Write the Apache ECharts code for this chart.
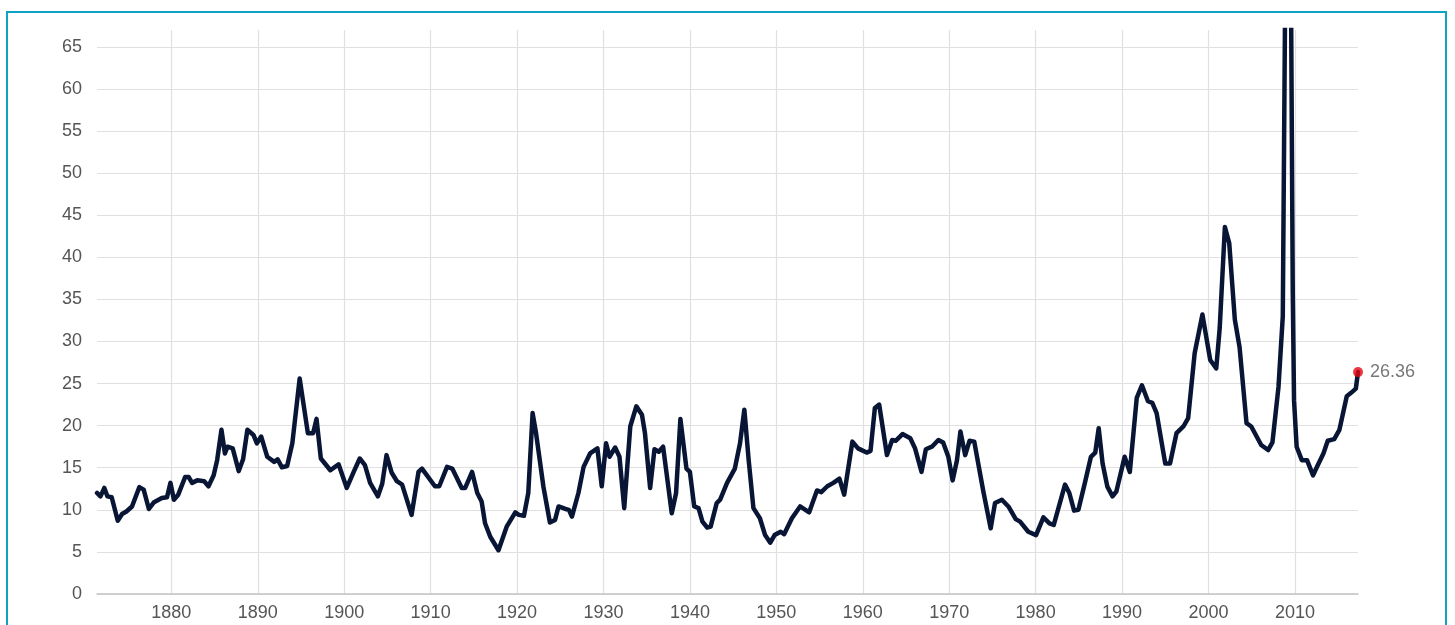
<!DOCTYPE html>
<html>
<head>
<meta charset="utf-8">
<script src="https://cdn.jsdelivr.net/npm/echarts@6/dist/echarts.min.js"></script>
<style>
  html, body { margin: 0; padding: 0; background: #fff; }
  #frame { position: absolute; left: 6px; top: 11px; width: 1441px; height: 660px; border: 2.5px solid #0fa3c5; box-sizing: border-box; }
  #chart { position: absolute; left: 0; top: 0; width: 1455px; height: 625px; }
</style>
</head>
<body>
<div id="frame"></div>
<div id="chart"></div>
<script>
// Year positions (fractional years) and S&P 500 P/E values
const years = [
  1871.4, 1871.8, 1872.25, 1872.6, 1873.1, 1873.8, 1874.3, 1874.8, 1875.45, 1876.3,
  1876.8, 1877.4, 1878.0, 1878.9, 1879.5, 1879.9, 1880.3, 1880.8, 1881.6, 1882.0,
  1882.4, 1883.0, 1883.8, 1884.3, 1884.9, 1885.3, 1885.8, 1886.2, 1886.5, 1887.1,
  1887.8, 1888.3, 1888.8, 1889.5, 1889.9, 1890.4, 1891.1, 1891.9, 1892.3, 1892.8,
  1893.4, 1894.0, 1894.85, 1895.8, 1896.4, 1896.8, 1897.3, 1898.4, 1899.35, 1900.3,
  1901.1, 1901.8, 1902.4, 1903.0, 1903.9, 1904.4, 1904.9, 1905.5, 1906.1, 1906.7,
  1907.8, 1908.6, 1909.0, 1910.5, 1911.0, 1911.9, 1912.5, 1913.6, 1914.0, 1914.8,
  1915.4, 1915.9, 1916.3, 1916.9, 1917.85, 1918.8, 1919.8, 1920.2, 1920.8, 1921.3,
  1921.8, 1922.2, 1923.05, 1923.8, 1924.4, 1924.8, 1925.6, 1926.0, 1926.35, 1927.1,
  1927.7, 1928.45, 1929.3, 1929.8, 1930.3, 1930.7, 1931.35, 1931.85, 1932.4, 1933.1,
  1933.8, 1934.45, 1934.8, 1935.4, 1935.9, 1936.4, 1936.9, 1937.9, 1938.4, 1938.9,
  1939.6, 1940.0, 1940.5, 1941.0, 1941.45, 1942.0, 1942.4, 1943.1, 1943.5, 1944.3,
  1945.2, 1945.8, 1946.3, 1946.8, 1947.35, 1948.1, 1948.7, 1949.3, 1949.8, 1950.5,
  1950.9, 1951.8, 1952.75, 1953.8, 1954.7, 1955.2, 1955.9, 1956.6, 1957.3, 1957.85,
  1958.8, 1959.45, 1960.45, 1960.9, 1961.4, 1961.9, 1962.8, 1963.4, 1963.8, 1964.6,
  1965.5, 1966.05, 1966.8, 1967.3, 1968.0, 1968.75, 1969.3, 1969.9, 1970.4, 1970.9,
  1971.3, 1971.85, 1972.35, 1972.9, 1973.95, 1974.8, 1975.3, 1976.1, 1976.85, 1977.7,
  1978.2, 1979.15, 1980.05, 1980.9, 1981.6, 1982.1, 1983.4, 1983.9, 1984.45, 1984.95,
  1985.7, 1986.4, 1986.9, 1987.3, 1987.75, 1988.3, 1988.9, 1989.35, 1990.3, 1990.9,
  1991.7, 1992.3, 1993.0, 1993.5, 1994.0, 1995.0, 1995.55, 1996.3, 1997.1, 1997.65,
  1998.4, 1999.3, 2000.2, 2000.9, 2001.3, 2001.9, 2002.4, 2003.05, 2003.6, 2004.4,
  2004.95, 2006.1, 2006.9, 2007.4, 2008.1, 2008.6, 2009.25, 2009.75, 2009.9, 2010.2,
  2010.8, 2011.4, 2012.1, 2012.6, 2013.3, 2013.8, 2014.55, 2015.15, 2016.0, 2016.5,
  2017.05, 2017.3
];
const peValues = [
  12.0, 11.6, 12.6, 11.6, 11.5, 8.7, 9.5, 9.8, 10.4, 12.7,
  12.4, 10.1, 10.9, 11.4, 11.5, 13.2, 11.2, 11.8, 13.9, 13.9,
  13.2, 13.5, 13.4, 12.8, 14.1, 15.9, 19.5, 16.7, 17.5, 17.3,
  14.6, 16.0, 19.5, 18.9, 17.9, 18.7, 16.3, 15.7, 16.0, 15.05,
  15.2, 17.9, 25.6, 19.1, 19.1, 20.8, 16.1, 14.7, 15.4, 12.6,
  14.5, 16.1, 15.3, 13.2, 11.6, 13.1, 16.5, 14.4, 13.4, 13.0,
  9.4, 14.5, 14.9, 12.8, 12.8, 15.1, 14.9, 12.6, 12.6, 14.5,
  12.0, 11.0, 8.4, 6.8, 5.2, 8.0, 9.7, 9.4, 9.3, 12.0,
  21.5, 19.1, 12.75, 8.5, 8.8, 10.4, 10.1, 10.0, 9.2, 12.0,
  15.1, 16.7, 17.3, 12.8, 17.9, 16.3, 17.4, 16.3, 10.2, 19.9,
  22.3, 21.3, 19.1, 12.6, 17.2, 16.9, 17.5, 9.6, 12.0, 20.8,
  14.9, 14.5, 10.4, 10.2, 8.6, 7.9, 8.0, 10.8, 11.2, 13.2,
  14.9, 17.9, 21.9, 15.9, 10.2, 9.0, 7.0, 6.1, 7.0, 7.4,
  7.1, 9.0, 10.4, 9.7, 12.3, 12.1, 12.8, 13.2, 13.7, 11.8,
  18.1, 17.3, 16.8, 17.0, 22.1, 22.5, 16.5, 18.3, 18.2, 19.0,
  18.5, 17.3, 14.5, 17.2, 17.5, 18.3, 18.0, 16.3, 13.5, 15.9,
  19.3, 16.5, 18.2, 18.1, 12.2, 7.8, 10.8, 11.2, 10.4, 8.9,
  8.6, 7.4, 7.0, 9.1, 8.4, 8.2, 13.0, 12.0, 9.9, 10.0,
  13.2, 16.3, 16.8, 19.7, 15.5, 12.75, 11.6, 12.2, 16.3, 14.5,
  23.3, 24.8, 22.9, 22.7, 21.5, 15.5, 15.5, 19.1, 19.9, 20.9,
  28.6, 33.2, 27.8, 26.8, 31.6, 43.6, 41.7, 32.6, 29.3, 20.3,
  19.9, 17.7, 17.1, 18.0, 24.6, 33.0, 123.7, 36.0, 23.0, 17.5,
  15.9, 15.9, 14.1, 15.2, 16.7, 18.2, 18.4, 19.5, 23.5, 23.9,
  24.4, 26.36
];
const yTicks = [0, 5, 10, 15, 20, 25, 30, 35, 40, 45, 50, 55, 60, 65];
const lastLabel = '26.36';

const seriesData = years.map((y, i) => [y, peValues[i]]);
const lastPoint = [years[years.length - 1], peValues[peValues.length - 1]];

const chart = echarts.init(document.getElementById('chart'), null, { renderer: 'canvas' });
const labelFont = { fontFamily: 'Liberation Sans, Arial, sans-serif', fontSize: 18, color: '#555555' };
chart.setOption({
  backgroundColor: 'transparent',
  animation: false,
  grid: { left: 97, right: 97, top: 30, bottom: 31, containLabel: false },
  xAxis: {
    type: 'value',
    min: 1871.4,
    max: 2017.3,
    splitNumber: 15,
    axisLine: { show: true, lineStyle: { color: '#c4c4c4', width: 1.5 } },
    axisTick: { show: false },
    axisLabel: Object.assign({
      margin: 10,
      showMinLabel: false,
      showMaxLabel: false,
      formatter: v => (Math.abs(v - Math.round(v)) < 1e-6 && Math.round(v) % 10 === 0) ? String(Math.round(v)) : ''
    }, labelFont),
    splitLine: { show: true, showMinLine: false, showMaxLine: false, lineStyle: { color: '#e0e0e0', width: 1.2 } }
  },
  yAxis: {
    type: 'value',
    min: 0,
    max: 67,
    interval: 5,
    axisLine: { show: false },
    axisTick: { show: false },
    axisLabel: Object.assign({
      margin: 15,
      showMaxLabel: false,
      formatter: v => yTicks.indexOf(v) >= 0 ? String(v) : ''
    }, labelFont),
    splitLine: { show: true, showMaxLine: false, lineStyle: { color: '#e0e0e0', width: 1.2 } }
  },
  series: [
    {
      type: 'line',
      data: seriesData,
      showSymbol: false,
      symbol: 'none',
      clip: true,
      lineStyle: { color: '#081534', width: 4.5, join: 'round', cap: 'round' },
      z: 2
    },
    {
      type: 'scatter',
      data: [lastPoint],
      symbolSize: 10,
      clip: false,
      itemStyle: { color: '#e30613' },
      label: Object.assign({
        show: true,
        position: 'right',
        distance: 7,
        formatter: lastLabel
      }, labelFont),
      z: 3
    }
  ]
});
</script>
</body>
</html>
